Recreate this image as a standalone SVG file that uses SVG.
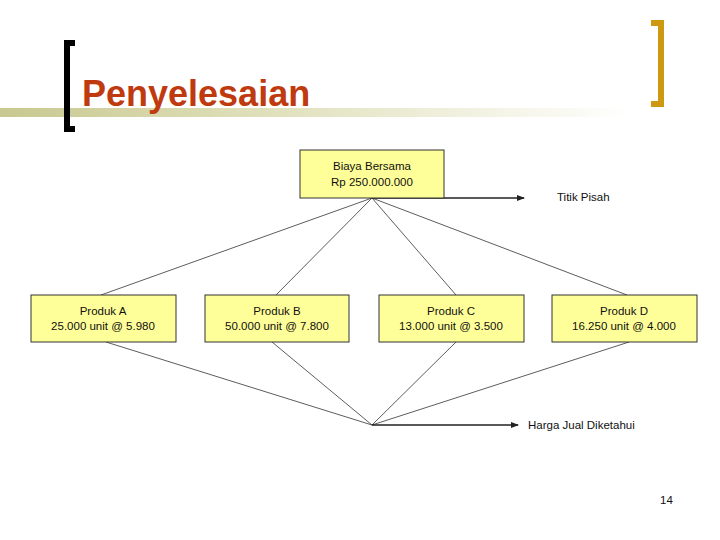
<svg xmlns="http://www.w3.org/2000/svg" width="720" height="540" viewBox="0 0 720 540">
<defs>
<linearGradient id="bar" x1="0" x2="1" y1="0" y2="0"><stop offset="0" stop-color="#c8c890"/><stop offset="0.5" stop-color="#e4e4c4"/><stop offset="1" stop-color="#ffffff"/></linearGradient>
<marker id="ah" markerWidth="8" markerHeight="8" refX="7" refY="4" orient="auto" markerUnits="userSpaceOnUse"><path d="M0,1 L8,4 L0,7 Z" fill="#222"/></marker>
</defs>
<style>
.box{fill:#ffff99;stroke:#333;stroke-width:1}
.t{font-family:"Liberation Sans",Arial,sans-serif;font-size:11.5px;fill:#111;text-anchor:middle}
.l{font-family:"Liberation Sans",Arial,sans-serif;font-size:11.5px;fill:#111}
.c{stroke:#333;stroke-width:0.8;fill:none}
.a{stroke:#222;stroke-width:1.6;fill:none;marker-end:url(#ah)}
</style>
<rect width="720" height="540" fill="#fff"/>
<rect x="0" y="108" width="630" height="9" fill="url(#bar)"/>
<path d="M75,43 H67 V129 H75" stroke="#000" stroke-width="6" fill="none"/>
<path d="M651,23 H661 V104 H651" stroke="#cc9911" stroke-width="6" fill="none"/>
<text x="82" y="106" font-family="Liberation Sans,Arial,sans-serif" font-size="36" font-weight="bold" fill="#c03a10">Penyelesaian</text>
<g id="connectors">
<path class="c" d="M372,198 L101,295 M372,198 L276,295 M372,198 L456,295 M372,198 L627,295"/>
<path class="c" d="M106,342 L372,425 M272,342 L372,425 M456,342 L372,425 M629,342 L372,425"/>
<line class="a" x1="372" y1="198" x2="524" y2="198"/>
<line class="a" x1="372" y1="425" x2="518" y2="425"/>
</g>
<g id="biaya"><rect class="box" x="300" y="150" width="144" height="48"/><text class="t" x="372" y="170">Biaya Bersama</text><text class="t" x="372" y="186">Rp 250.000.000</text></g>
<g id="titik"><text class="l" x="557" y="201">Titik Pisah</text></g>
<g id="a"><rect class="box" x="31" y="295" width="145" height="47"/><text class="t" x="103" y="315">Produk A</text><text class="t" x="103" y="330">25.000 unit @ 5.980</text></g>
<g id="b"><rect class="box" x="205" y="295" width="144" height="47"/><text class="t" x="277" y="315">Produk B</text><text class="t" x="277" y="330">50.000 unit @ 7.800</text></g>
<g id="c"><rect class="box" x="379" y="295" width="145" height="47"/><text class="t" x="451" y="315">Produk C</text><text class="t" x="451" y="330">13.000 unit @ 3.500</text></g>
<g id="d"><rect class="box" x="552" y="295" width="145" height="47"/><text class="t" x="624" y="315">Produk D</text><text class="t" x="624" y="330">16.250 unit @ 4.000</text></g>
<g id="harga"><text class="l" x="528" y="429">Harga Jual Diketahui</text></g>
<text class="l" x="660" y="504" font-size="10">14</text>
</svg>
